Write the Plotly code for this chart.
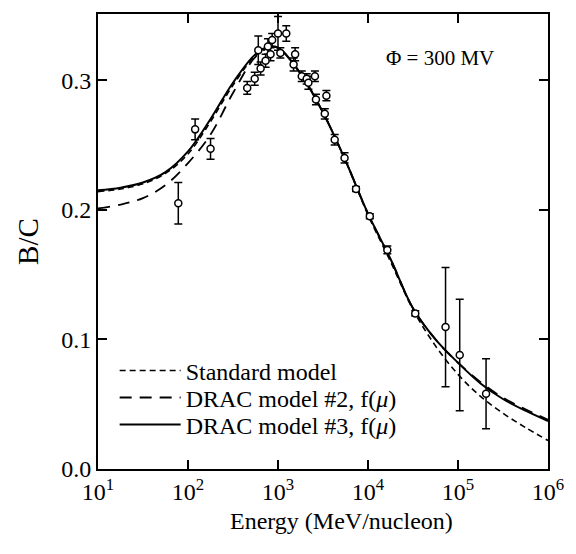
import plotly.graph_objects as go

# ---- data ----
energy_pts = [78, 120, 178, 455, 551, 604, 641, 728, 773, 826, 861, 1000, 1062, 1236,
              1490, 1550, 1836, 2084, 2176, 2573, 2640, 3310, 3450, 4265, 5490, 7360,
              10470, 16400, 33500, 72700, 104500, 205000]
bc_pts = [0.205, 0.262, 0.247, 0.294, 0.301, 0.323, 0.309, 0.315, 0.326, 0.320, 0.331,
          0.336, 0.321, 0.336, 0.312, 0.320, 0.303, 0.301, 0.298, 0.303, 0.285, 0.274,
          0.288, 0.254, 0.240, 0.216, 0.195, 0.169, 0.120, 0.1095, 0.088, 0.058]
bc_err = [0.016, 0.008, 0.008, 0.005, 0.005, 0.011, 0.005, 0.005, 0.006, 0.005, 0.005,
          0.013, 0.004, 0.006, 0.005, 0.005, 0.004, 0.004, 0.005, 0.004, 0.004, 0.004,
          0.004, 0.004, 0.004, 0.002, 0.002, 0.003, 0.002, 0.046, 0.043, 0.027]

energy_curve = [10, 17.8, 31.6, 56.2, 100, 178, 316, 562, 800, 1000, 1780, 3160, 5620,
                10000, 17800, 31600, 56200, 100000, 178000, 316000, 562000, 1000000]
standard_model = [0.214, 0.216, 0.220, 0.228, 0.243, 0.268, 0.296, 0.319, 0.325, 0.325,
                  0.305, 0.275, 0.238, 0.196, 0.160, 0.123, 0.095, 0.073, 0.056, 0.043,
                  0.032, 0.022]
drac2_model = [0.201, 0.204, 0.209, 0.219, 0.236, 0.258, 0.290, 0.318, 0.325, 0.325,
               0.305, 0.275, 0.238, 0.197, 0.162, 0.124, 0.100, 0.082, 0.067, 0.055,
               0.046, 0.038]
drac3_model = [0.215, 0.217, 0.221, 0.229, 0.245, 0.270, 0.298, 0.320, 0.326, 0.325,
               0.305, 0.275, 0.238, 0.197, 0.162, 0.124, 0.100, 0.082, 0.066, 0.054,
               0.045, 0.037]

x_tickvals = [10, 100, 1000, 10000, 100000, 1000000]
x_ticktext = ["10<sup>1</sup>", "10<sup>2</sup>", "10<sup>3</sup>", "10<sup>4</sup>",
              "10<sup>5</sup>", "10<sup>6</sup>"]
y_tickvals = [0.0, 0.1, 0.2, 0.3]
y_ticktext = ["0.0", "0.1", "0.2", "0.3"]

FONT = "Liberation Serif, Times New Roman, serif"
FS = 24

fig = go.Figure()
fig.add_trace(go.Scatter(x=energy_curve, y=standard_model, mode="lines", name="Standard model",
                         legend="legend",
                         line=dict(color="black", width=1.6, dash="6px,4px", shape="spline")))
fig.add_trace(go.Scatter(x=energy_curve, y=drac2_model, mode="lines",
                         name="DRAC model #2, f(<i>μ</i>)", legend="legend2",
                         line=dict(color="black", width=1.8, dash="12px,8px", shape="spline")))
fig.add_trace(go.Scatter(x=energy_curve, y=drac3_model, mode="lines",
                         name="DRAC model #3, f(<i>μ</i>)", legend="legend3",
                         line=dict(color="black", width=2, shape="spline")))
fig.add_trace(go.Scatter(x=energy_pts, y=bc_pts, mode="markers", showlegend=False,
                         marker=dict(symbol="circle", size=7, color="white",
                                     line=dict(color="black", width=1.5)),
                         error_y=dict(type="data", array=bc_err, visible=True,
                                      color="black", thickness=1.5, width=4)))

fig.add_annotation(xref="paper", yref="paper", x=0.635, y=0.903, xanchor="left",
                   yanchor="middle", showarrow=False, text="Φ = 300 MV",
                   font=dict(family=FONT, size=21, color="black"))
fig.add_annotation(xref="paper", yref="paper", x=0.54, y=-0.114, xanchor="center",
                   yanchor="middle", showarrow=False, text="Energy (MeV/nucleon)",
                   font=dict(family=FONT, size=FS, color="black"))

leg_common = dict(x=0.037, xanchor="left", yanchor="middle", bgcolor="rgba(0,0,0,0)",
                  font=dict(family=FONT, size=FS, color="black"), itemwidth=61,
                  borderwidth=0)
fig.update_layout(
    width=576, height=554,
    margin=dict(l=98, r=22, t=13, b=85),
    plot_bgcolor="white", paper_bgcolor="white",
    font=dict(family=FONT, size=FS, color="black"),
    showlegend=True,
    legend=dict(y=0.2155, **leg_common),
    legend2=dict(y=0.1563, **leg_common),
    legend3=dict(y=0.0971, **leg_common),
)
fig.update_xaxes(type="log", range=[1, 6], tickvals=x_tickvals, ticktext=x_ticktext,
                 showgrid=False, zeroline=False, showline=True, linecolor="black",
                 linewidth=2, mirror="ticks", ticks="inside", ticklen=9, tickwidth=1.5,
                 tickcolor="black", tickfont=dict(family=FONT, size=FS))
fig.update_yaxes(range=[0, 0.351], tickvals=y_tickvals, ticktext=y_ticktext,
                 showgrid=False, zeroline=False, showline=True, linecolor="black",
                 linewidth=2, mirror="ticks", ticks="inside", ticklen=9, tickwidth=1.5,
                 tickcolor="black", title=dict(text="B/C", standoff=14),
                 tickfont=dict(family=FONT, size=FS))

fig.write_html("out.html")
